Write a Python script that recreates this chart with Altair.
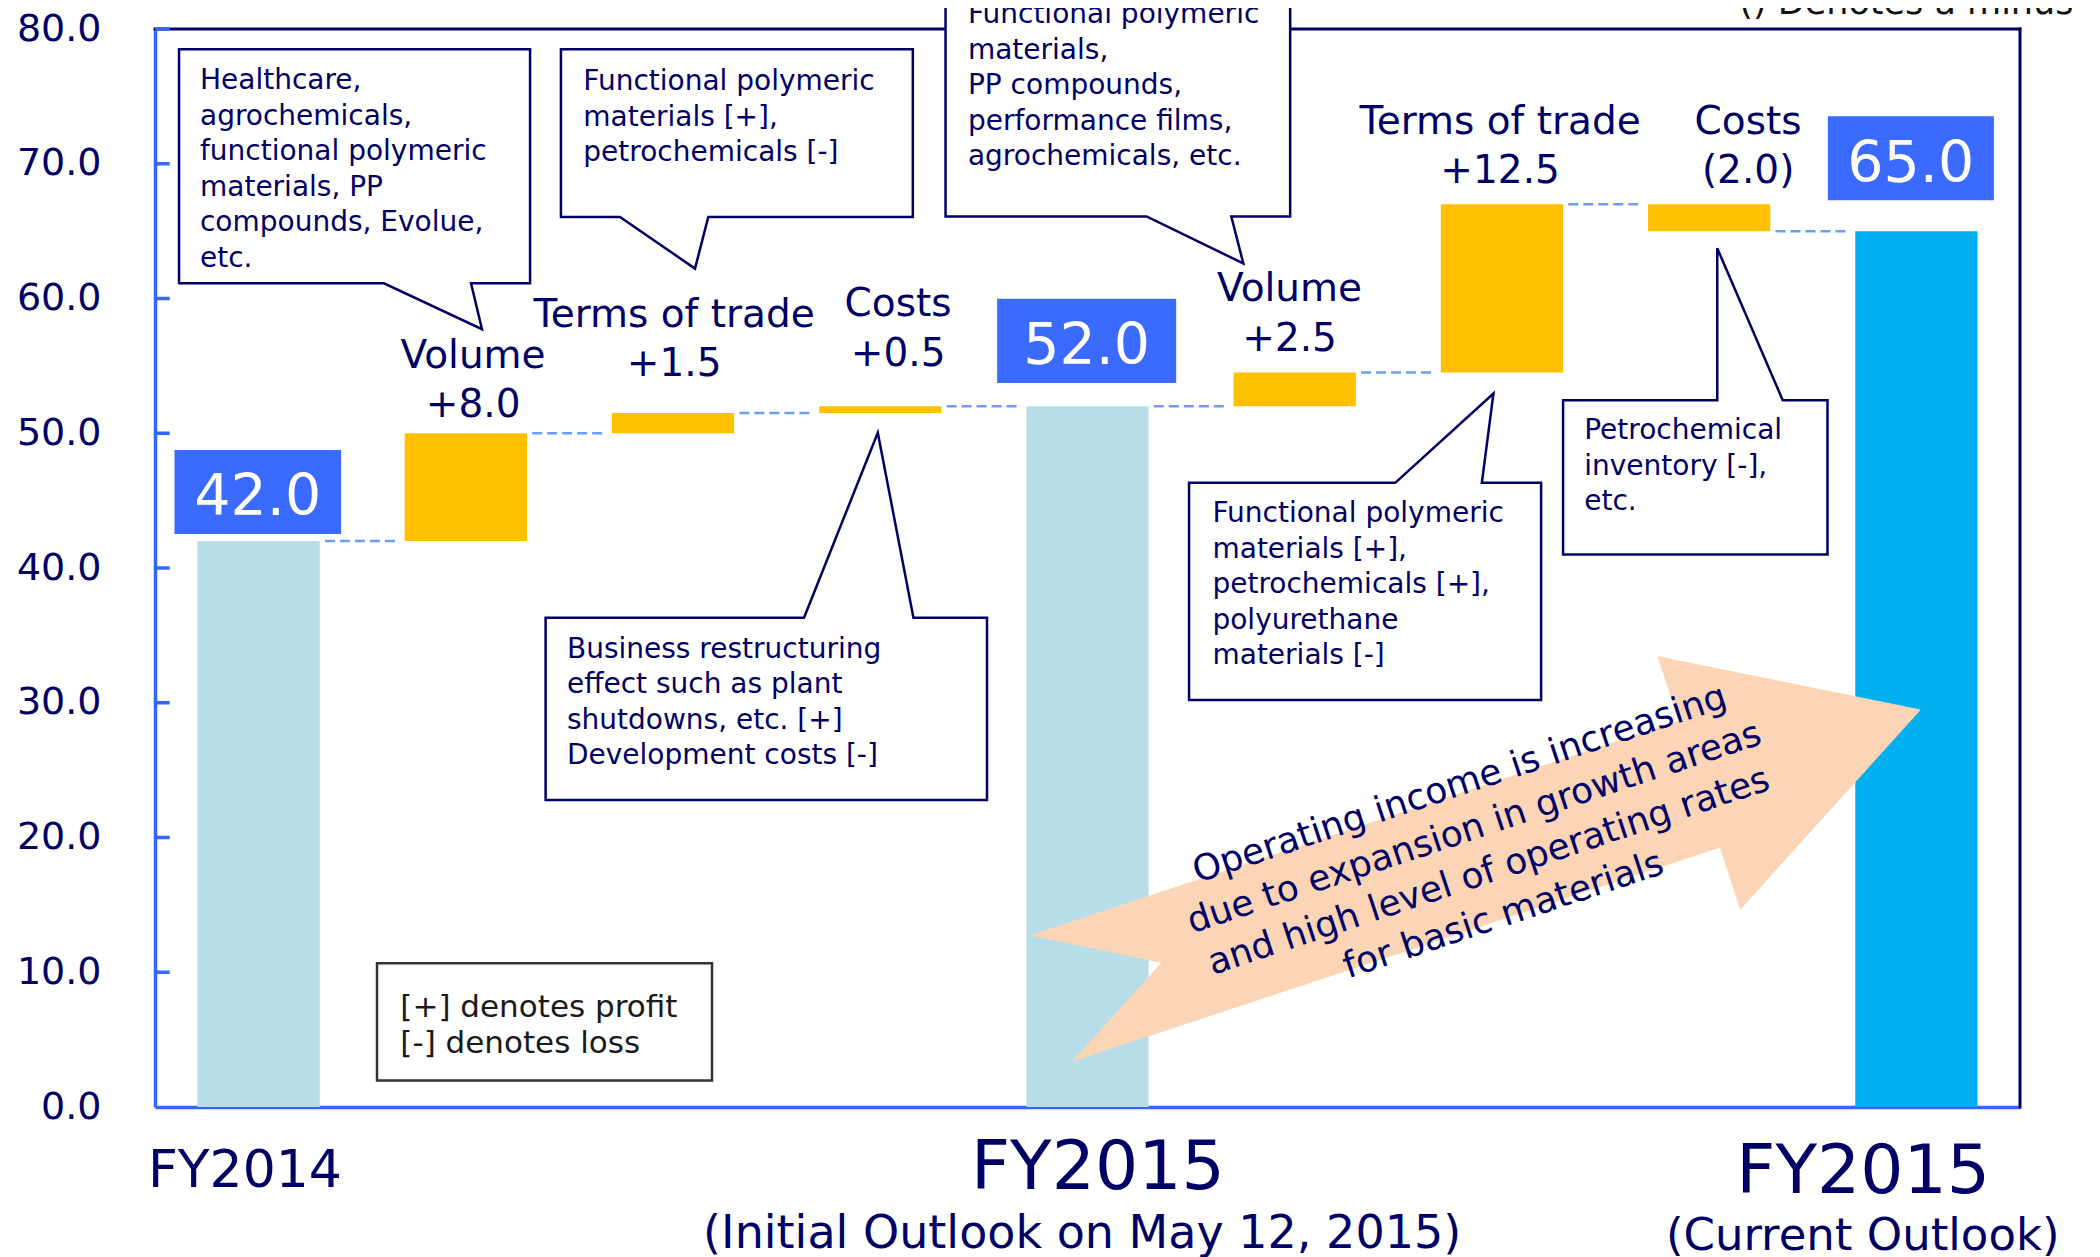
import altair as alt
import pandas as pd

# ---------------- data ----------------
steps = ["FY2014", "Volume", "Terms of trade", "Costs", "FY2015 initial",
         "Volume", "Terms of trade", "Costs", "FY2015 current"]
kinds = ["total", "delta", "delta", "delta", "total",
         "delta", "delta", "delta", "total"]
values = [42.0, 8.0, 1.5, 0.5, 52.0, 2.5, 12.5, -2.0, 65.0]

y_ticks = [0, 10, 20, 30, 40, 50, 60, 70, 80]

category_labels = ["FY2014", "FY2015", "(Initial Outlook on May 12, 2015)",
                   "FY2015", "(Current Outlook)"]

callout_texts = {
    "A": ["Healthcare,", "agrochemicals,", "functional polymeric",
          "materials, PP", "compounds, Evolue,", "etc."],
    "B": ["Functional polymeric", "materials [+],", "petrochemicals [-]"],
    "C": ["Functional polymeric", "materials,", "PP compounds,",
          "performance films,", "agrochemicals, etc."],
    "D": ["Functional polymeric", "materials [+],", "petrochemicals [+],",
          "polyurethane", "materials [-]"],
    "E": ["Business restructuring", "effect such as plant",
          "shutdowns, etc. [+]", "Development costs [-]"],
    "F": ["Petrochemical", "inventory [-],", "etc."],
}
legend_lines = ["[+] denotes profit", "[-] denotes loss"]
arrow_lines = ["Operating income is increasing", "due to expansion in growth areas",
               "and high level of operating rates", "for basic materials"]
minus_note = "() Denotes a minus"

# ---------------- styles ----------------
FONT = "DejaVu Sans"
NAVY = "#000066"
AXIS_BLUE = "#3366FF"
BOX_BLUE = "#3A6AFF"
LIGHT = "#B7DDE8"
YELLOW = "#FFC000"
CYAN = "#00B0F0"
PEACH = "#FBD5B5"
DASH = "#6F9BFF"

xs = alt.Scale(domain=[-0.5, 8.5], nice=False, zero=False)
ys = alt.Scale(domain=[0, 80], nice=False, zero=False)

y_axis = alt.Axis(values=y_ticks, format=".1f", labelFontSize=38, labelColor=NAVY,
                  labelFont=FONT, labelPadding=54, ticks=False, tickSize=0,
                  domainColor=AXIS_BLUE, domainWidth=3.5, grid=False, title=None,
                  labelFlush=False, labelOverlap=False)
x_axis = alt.Axis(labels=False, ticks=False, title=None, domainColor=AXIS_BLUE,
                  domainWidth=3.5, grid=False)


def X(field, **kw):
    return alt.X(field, scale=xs, axis=x_axis, **kw)


def Y(field, **kw):
    return alt.Y(field, scale=ys, axis=y_axis, **kw)


# ---------------- waterfall table ----------------
rows = []
run = 0.0
for i, (s, k, v) in enumerate(zip(steps, kinds, values)):
    if k == "total":
        lo, hi = 0.0, v
        run = v
    else:
        lo, hi = run, run + v
        run = run + v
    btype = "delta" if k == "delta" else ("current" if i == len(steps) - 1 else "base")
    rows.append(dict(i=i, step=s, kind=k, value=v, lo=lo, hi=hi, level=run, btype=btype))
bars_df = pd.DataFrame(rows)

conn_df = pd.DataFrame([dict(i=r["i"], level=r["level"]) for r in rows[:-1]])

# delta labels (annotation anchors)
label_x = [1.035, 2.005, 3.086, 4.975, 5.991, 7.188]
label_base = [51.18, 54.23, 55.01, 56.14, 68.55, 68.55]
deltas = [r for r in rows if r["kind"] == "delta"]
lab_df = pd.DataFrame([
    dict(x=lx, y=ly, line1=r["step"],
         line2=(f"+{r['value']:.1f}" if r["value"] > 0 else f"({abs(r['value']):.1f})"))
    for r, lx, ly in zip(deltas, label_x, label_base)
])

# total value boxes
totals = [r for r in rows if r["kind"] == "total"]
box_x0 = [-0.406, 3.564, 7.573]
box_x1 = [0.398, 4.428, 8.374]
box_y0 = [42.52, 53.73, 67.29]
box_y1 = [48.76, 59.98, 73.52]
box_tx = [-0.004, 3.996, 7.973]
box_ty = [43.94, 55.15, 68.64]
vbox_df = pd.DataFrame([
    dict(x0=a, x1=b, y0=c, y1=d, tx=e, ty=f, txt=f"{r['value']:.1f}")
    for r, a, b, c, d, e, f in zip(totals, box_x0, box_x1, box_y0, box_y1, box_tx, box_ty)
])

# category labels
cat_x = [-0.066, 4.050, 3.974, 7.743, 7.741]
cat_y = [-5.96, -6.11, -10.46, -6.36, -10.61]
cat_fs = [52, 68, 46, 68, 45]
cat_df = pd.DataFrame(dict(txt=category_labels, x=cat_x, y=cat_y, fs=cat_fs))

# ---------------- callouts geometry (data units) ----------------
callouts = {
    #     box (x0, x1, y0, y1)           tail base (b0, b1)  apex (x, y)     side
    "A": ((-0.384, 1.310, 61.13, 78.49), (0.605, 1.025), (1.078, 57.72), "bottom"),
    "B": ((1.459, 3.157, 66.05, 78.49), (1.744, 2.170), (2.106, 62.22), "bottom"),
    "C": ((3.315, 4.978, 66.09, 83.00), (4.285, 4.694), (4.752, 62.60), "bottom"),
    "D": ((4.490, 6.189, 30.20, 46.32), (5.485, 5.903), (5.959, 52.95), "top"),
    "E": ((1.385, 3.515, 22.79, 36.31), (2.632, 3.160), (2.988, 50.04), "top"),
    "F": ((6.295, 7.571, 41.01, 52.45), (7.039, 7.355), (7.039, 63.73), "top"),
}
callout_text_pos = {
    "A": (-0.283, 75.54), "B": (1.567, 75.45), "C": (3.423, 80.42),
    "D": (4.603, 43.38), "E": (1.488, 33.33), "F": (6.397, 49.54),
}
LINE_STEP = 2.634  # ~35.5 px

box_rows, path_rows, ctext_rows = [], [], []
for cid, (box, tail, apex, side) in callouts.items():
    x0, x1, y0, y1 = box
    b0, b1 = tail
    ax, ay = apex
    box_rows.append(dict(cid=cid, x0=x0, x1=x1, y0=y0, y1=y1))
    if side == "bottom":
        pts = [(x0, y1), (x1, y1), (x1, y0), (b1, y0), (ax, ay), (b0, y0), (x0, y0), (x0, y1)]
    else:
        pts = [(x0, y1), (b0, y1), (ax, ay), (b1, y1), (x1, y1), (x1, y0), (x0, y0), (x0, y1)]
    for k, (px, py) in enumerate(pts):
        path_rows.append(dict(cid=cid, k=k, x=px, y=py))
    tx, ty = callout_text_pos[cid]
    for k, t in enumerate(callout_texts[cid]):
        ctext_rows.append(dict(cid=cid, x=tx, y=ty - k * LINE_STEP, txt=t))
cbox_df = pd.DataFrame(box_rows)
cpath_df = pd.DataFrame(path_rows)
ctext_df = pd.DataFrame(ctext_rows)

legend_box = pd.DataFrame([dict(x0=0.5714, x1=2.188, y0=1.966, y1=10.67)])
legend_txt = pd.DataFrame(dict(txt=legend_lines, x=[0.684, 0.684], y=[6.69, 3.98]))

# ---------------- big arrow ----------------
tailTop = (3.729, 12.75)
notch = (4.360, 10.73)
tailBot = (3.930, 3.43)
headBaseBot = (7.049, 19.27)
barbBot = (7.151, 14.70)
tip = (8.018, 29.47)
barbTop = (6.754, 33.41)
headBaseTop = (6.855, 28.64)
arrow_pieces = {
    "head": [barbTop, tip, barbBot],
    "shaft": [tailTop, headBaseTop, headBaseBot, notch],
    "foot": [notch, headBaseBot, tailBot],
}


def vslices(pid, poly):
    """vertical slices (x -> ylow, yhigh) of a convex polygon at each vertex x"""
    out = []
    xvals = sorted(set(p[0] for p in poly))
    n = len(poly)
    for k, xv in enumerate(xvals):
        ysy = []
        for j in range(n):
            (px, py), (qx, qy) = poly[j], poly[(j + 1) % n]
            if px == qx:
                if px == xv:
                    ysy += [py, qy]
                continue
            if min(px, qx) <= xv <= max(px, qx):
                ysy.append(py + (xv - px) * (qy - py) / (qx - px))
        out.append(dict(pid=pid, k=k, x=xv, ylo=min(ysy), yhi=max(ysy)))
    return out


arrow_rows = []
for pid, poly in arrow_pieces.items():
    arrow_rows += vslices(pid, poly)
arrow_df = pd.DataFrame(arrow_rows)

arrow_anchor_x = [5.813, 5.883, 5.953, 6.024]
arrow_anchor_y = [23.18, 19.94, 16.70, 13.46]
arrow_txt_df = pd.DataFrame(dict(txt=arrow_lines, x=arrow_anchor_x, y=arrow_anchor_y))

# frame & ticks
frame_df = pd.DataFrame([dict(x=-0.5, x2=8.5, y=80, y2=80), dict(x=8.5, x2=8.5, y=0, y2=80)])
tick_df = pd.DataFrame(dict(t=y_ticks[1:]))
note_df = pd.DataFrame([dict(txt=minus_note, x=8.758, y=81.14)])

# ---------------- charts ----------------
bars = alt.Chart(bars_df).transform_calculate(
    x0="datum.i - 0.295", x1="datum.i + 0.295"
).mark_rect().encode(
    x=X("x0:Q"), x2="x1:Q", y=Y("lo:Q"), y2="hi:Q",
    color=alt.Color("btype:N", scale=alt.Scale(domain=["base", "delta", "current"],
                                               range=[LIGHT, YELLOW, CYAN]), legend=None),
)

conn = alt.Chart(conn_df).transform_calculate(
    x0="datum.i + 0.32", x1="datum.i + 0.67"
).mark_rule(color=DASH, strokeWidth=2.5, strokeDash=[10, 5]).encode(
    x=X("x0:Q"), x2="x1:Q", y=Y("level:Q"),
)

frame = alt.Chart(frame_df).mark_rule(color=NAVY, strokeWidth=3, strokeCap="square").encode(
    x=X("x:Q"), x2="x2:Q", y=Y("y:Q"), y2="y2:Q",
)

ticks = alt.Chart(tick_df).transform_calculate(
    a="-0.5", b="-0.429"
).mark_rule(color=AXIS_BLUE, strokeWidth=3.5).encode(
    x=X("a:Q"), x2="b:Q", y=Y("t:Q"),
)

arrow = alt.Chart(arrow_df).mark_area(
    color=PEACH, stroke=PEACH, strokeWidth=1, opacity=1, interpolate="linear"
).encode(
    x=X("x:Q"), y=Y("ylo:Q", stack=None), y2="yhi:Q",
    detail="pid:N",
)

cfill = alt.Chart(cbox_df).mark_rect(color="white").encode(
    x=X("x0:Q"), x2="x1:Q", y=Y("y0:Q"), y2="y1:Q",
)

cline = alt.Chart(cpath_df).mark_line(
    color=NAVY, strokeWidth=2.5, strokeCap="square", strokeJoin="miter"
).encode(
    x=X("x:Q"), y=Y("y:Q"), detail="cid:N", order="k:Q",
)

lbox = alt.Chart(legend_box).mark_rect(fill="white", stroke="#333333", strokeWidth=2.5).encode(
    x=X("x0:Q"), x2="x1:Q", y=Y("y0:Q"), y2="y1:Q",
)
ltxt = alt.Chart(legend_txt).mark_text(
    align="left", baseline="alphabetic", font=FONT, fontSize=31, color="#1a1a1a"
).encode(x=X("x:Q"), y=Y("y:Q"), text="txt:N")

vbox = alt.Chart(vbox_df).mark_rect(color=BOX_BLUE).encode(
    x=X("x0:Q"), x2="x1:Q", y=Y("y0:Q"), y2="y1:Q",
)
vtxt = alt.Chart(vbox_df).mark_text(
    align="center", baseline="alphabetic", font=FONT, fontSize=57, color="white"
).encode(x=X("tx:Q"), y=Y("ty:Q"), text="txt:N")

lab2 = alt.Chart(lab_df).mark_text(
    align="center", baseline="alphabetic", font=FONT, fontSize=39, color=NAVY
).encode(x=X("x:Q"), y=Y("y:Q"), text="line2:N")
lab1 = alt.Chart(lab_df).mark_text(
    align="center", baseline="alphabetic", font=FONT, fontSize=39, color=NAVY, dy=-49.5
).encode(x=X("x:Q"), y=Y("y:Q"), text="line1:N")

ctxt = alt.Chart(ctext_df).mark_text(
    align="left", baseline="alphabetic", font=FONT, fontSize=28, color=NAVY
).encode(x=X("x:Q"), y=Y("y:Q"), text="txt:N")

atxt = alt.Chart(arrow_txt_df).mark_text(
    align="center", baseline="alphabetic", font=FONT, fontSize=36, color=NAVY, angle=341.6
).encode(x=X("x:Q"), y=Y("y:Q"), text="txt:N")

cats = alt.Chart(cat_df).mark_text(
    align="center", baseline="alphabetic", font=FONT, color=NAVY
).encode(x=X("x:Q"), y=Y("y:Q"), text="txt:N", size=alt.Size("fs:Q", scale=None))

note = alt.Chart(note_df).mark_text(
    align="right", baseline="alphabetic", font=FONT, fontSize=35, color="#111111"
).encode(x=X("x:Q"), y=Y("y:Q"), text="txt:N")

chart = alt.layer(
    bars, conn, frame, ticks, arrow, cfill, cline, lbox, ltxt, vbox, vtxt,
    lab2, lab1, ctxt, atxt, cats, note
).properties(
    width=1865, height=1078,
    padding={"left": 147, "top": 21, "right": 70, "bottom": 150},
    autosize=alt.AutoSizeParams(type="none"),
    background="white",
).configure_view(stroke=None)

chart.save("out.html", embed_options={"renderer": "svg", "actions": False})
